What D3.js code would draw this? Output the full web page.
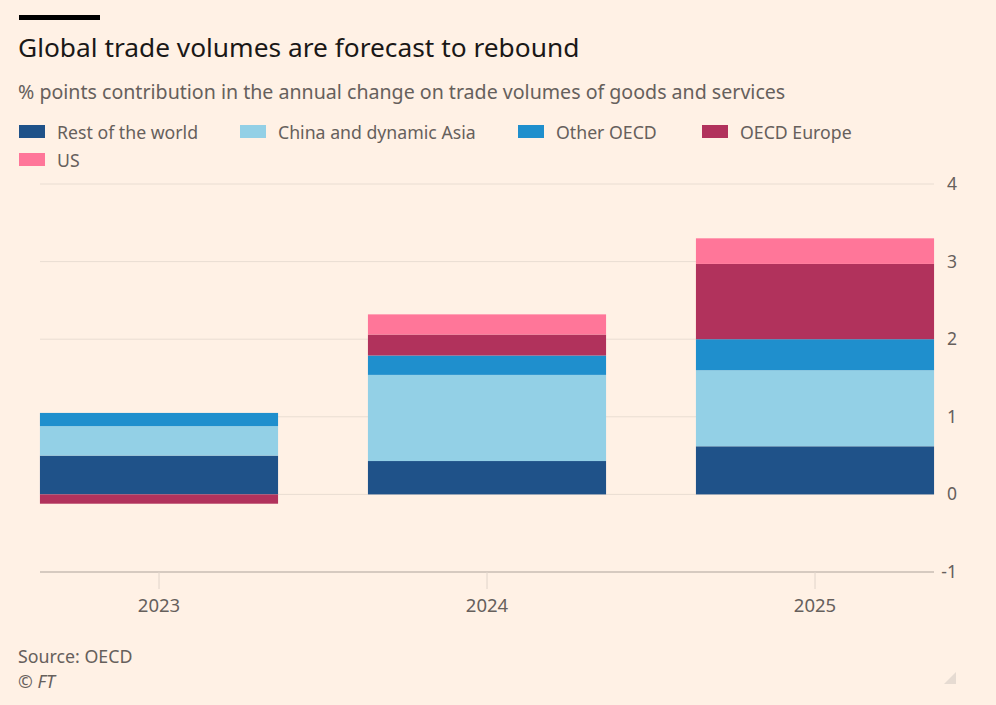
<!DOCTYPE html>
<html><head><meta charset="utf-8">
<script src="https://cdn.jsdelivr.net/npm/d3@7/dist/d3.min.js"></script>
<style>
html,body{margin:0;padding:0;background:#fff1e5;}
svg{display:block;font-family:"Noto Sans",Lato,sans-serif;}
</style></head>
<body>
<svg id="chart" width="996" height="705"></svg>
<script>
const years = ["2023","2024","2025"];
const seriesNames = ["Rest of the world","China and dynamic Asia","Other OECD","OECD Europe","US"];
const restOfWorld = [0.50, 0.43, 0.62];
const chinaAsia   = [0.38, 1.11, 0.98];
const otherOECD   = [0.17, 0.25, 0.40];
const oecdEurope  = [-0.12, 0.27, 0.97];
const us          = [0.00, 0.26, 0.33];
const yTicks = [-1, 0, 1, 2, 3, 4];
const colors = ["#1f5289","#93d0e6","#1f8fcd","#b1325c","#ff7699"];

const seriesValues = [restOfWorld, chinaAsia, otherOECD, oecdEurope, us];
const svg = d3.select("#chart");
svg.append("rect").attr("width",996).attr("height",705).attr("fill","#fff1e5");

// top bar
svg.append("rect").attr("x",19).attr("y",15).attr("width",81).attr("height",5).attr("fill","#000");
svg.append("text").attr("x",18).attr("y",57).attr("font-size",26.3).attr("fill","#1a1817")
  .text("Global trade volumes are forecast to rebound");
svg.append("text").attr("x",18).attr("y",99).attr("font-size",19.6).attr("fill","#66605c")
  .text("% points contribution in the annual change on trade volumes of goods and services");

// legend
const legendPos = [[19,125],[240,125],[518,125],[702,125],[19,153]];
seriesNames.forEach((n,i)=>{
  const g = svg.append("g").attr("transform",`translate(${legendPos[i][0]},${legendPos[i][1]})`);
  g.append("rect").attr("width",26).attr("height",13).attr("fill",colors[i]);
  g.append("text").attr("x",38).attr("y",13.5).attr("font-size",17.7).attr("fill","#66605c").text(n);
});

const y = d3.scaleLinear().domain([-1,4]).range([572,184]);
const x = d3.scaleBand().domain(years).range([-5,979]).paddingInner(0.274).paddingOuter(0.137);

// gridlines
svg.append("g").selectAll("line").data(yTicks.filter(t=>t!==-1)).join("line")
  .attr("x1",40).attr("x2",934).attr("y1",d=>y(d)).attr("y2",d=>y(d))
  .attr("stroke","#e9ddd2").attr("stroke-width",1);

// y labels
svg.append("g").selectAll("text").data(yTicks).join("text")
  .attr("x",957).attr("y",d=>y(d)+6).attr("text-anchor","end")
  .attr("font-size",17.5).attr("fill","#66605c").text(d=>d);

// stacks
const table = years.map((yr,i)=>{
  const o = {year:yr};
  seriesNames.forEach((n,k)=>o[n]=seriesValues[k][i]);
  return o;
});
const stack = d3.stack().keys(seriesNames).offset(d3.stackOffsetDiverging);
const layers = stack(table);
layers.forEach((layer,k)=>{
  svg.append("g").selectAll("rect").data(layer).join("rect")
    .attr("x",d=>x(d.data.year)).attr("width",x.bandwidth())
    .attr("y",d=>y(Math.max(d[0],d[1])))
    .attr("height",d=>Math.abs(y(d[0])-y(d[1])))
    .attr("fill",colors[k]);
});

// x axis line and ticks
svg.append("line").attr("x1",40).attr("x2",934).attr("y1",y(-1)).attr("y2",y(-1))
  .attr("stroke","#d6cac0").attr("stroke-width",2);
svg.append("g").selectAll("line").data(years).join("line")
  .attr("x1",d=>x(d)+x.bandwidth()/2).attr("x2",d=>x(d)+x.bandwidth()/2)
  .attr("y1",y(-1)).attr("y2",y(-1)+17).attr("stroke","#e0d4ca").attr("stroke-width",1);
svg.append("g").selectAll("text").data(years).join("text")
  .attr("x",d=>x(d)+x.bandwidth()/2).attr("y",612).attr("text-anchor","middle")
  .attr("font-size",18.5).attr("fill","#66605c").text(d=>d);

// footer
svg.append("text").attr("x",18).attr("y",663).attr("font-size",17.8).attr("fill","#66605c").text("Source: OECD");
svg.append("text").attr("x",18).attr("y",688).attr("font-size",17.8).attr("font-style","italic").attr("fill","#66605c").text("© FT");
svg.append("path").attr("d","M956,672 L956,684 L944,684 Z").attr("fill","#e6dbd2");
</script>
</body></html>
